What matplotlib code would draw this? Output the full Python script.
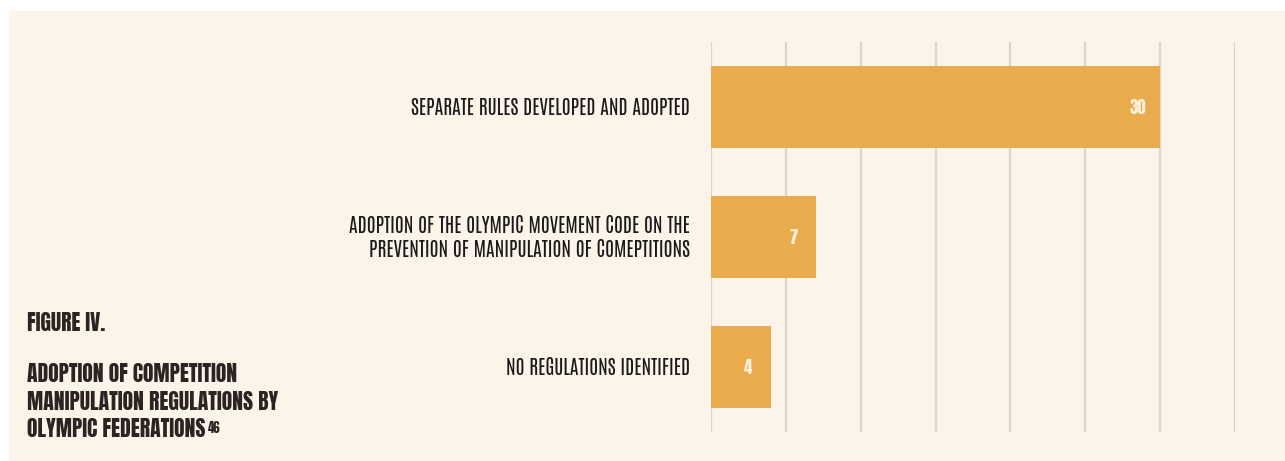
import matplotlib
matplotlib.use("Agg")
from matplotlib import pyplot as plt
from matplotlib.patches import Rectangle
import numpy as np

categories = ["SEPARATE RULES DEVELOPED AND ADOPTED",
              "ADOPTION OF THE OLYMPIC MOVEMENT CODE ON THE\nPREVENTION OF MANIPULATION OF COMEPTITIONS",
              "NO REGULATIONS IDENTIFIED"]
values = [30, 7, 4]
grid_ticks = [0, 5, 10, 15, 20, 25, 30, 35]
title_lines = ["ADOPTION OF COMPETITION", "MANIPULATION REGULATIONS BY",
               "OLYMPIC FEDERATIONS"]

bg = "#fdf4e9"
bar_color = "#e9ab4b"
grid_color = "#dcd4c9"
text_color = "#1a1a1a"
title_color = "#2a2522"
font = ["Antonio", "Liberation Sans Narrow", "DejaVu Sans"]
heavy = ["Anton", "Antonio", "DejaVu Sans"]

W, H = 1285, 461
fig = plt.figure(figsize=(W / 100, H / 100), dpi=100)
fig.patch.set_facecolor("white")
fig.patches.append(Rectangle((9 / W, 0), 1 - 9 / W, 1 - 11 / H,
                             transform=fig.transFigure, facecolor=bg,
                             edgecolor="none", zorder=-5))

ax = fig.add_axes([711 / W, 1 - 432 / H, (1235 - 711) / W, (432 - 42) / H])
ax.set_facecolor("none")
y = np.arange(len(values))
ax.barh(y, values, height=0.63, color=bar_color, zorder=2)
ax.set_xlim(0, 35)
ax.set_ylim(len(values) - 0.5, -0.5)

for t in grid_ticks:
    ax.axvline(t, color=grid_color, lw=1.6, zorder=1)

for s in ax.spines.values():
    s.set_visible(False)
ax.set_xticks([])
ax.set_yticks([])

for i, (c, v) in enumerate(zip(categories, values)):
    ax.text(-1.4, i, c, ha="right", va="center", fontsize=14,
            family=font, color=text_color, linespacing=1.2)
    ax.text(v - 1.5, i, str(v), ha="center", va="center", fontsize=12,
            family=heavy, color="#fdf0dc")

fig.text(27 / W, 1 - 323 / H, "FIGURE IV.", ha="left", va="center",
         fontsize=15.5, family=heavy, color=title_color)
last = None
for k, line in enumerate(title_lines):
    last = fig.text(27 / W, 1 - (374 + 27.5 * k) / H, line, ha="left",
                    va="center", fontsize=15.6, family=heavy, color=title_color)

# superscript footnote after the last title line
r = fig.canvas.get_renderer()
bb = last.get_window_extent(renderer=r)
fig.text((bb.x1 + 2) / W, (bb.y1 - 3) / H, "46", ha="left", va="top",
         fontsize=9, family=heavy, color=title_color)

fig.savefig("out.png", dpi=100, facecolor=fig.get_facecolor())
